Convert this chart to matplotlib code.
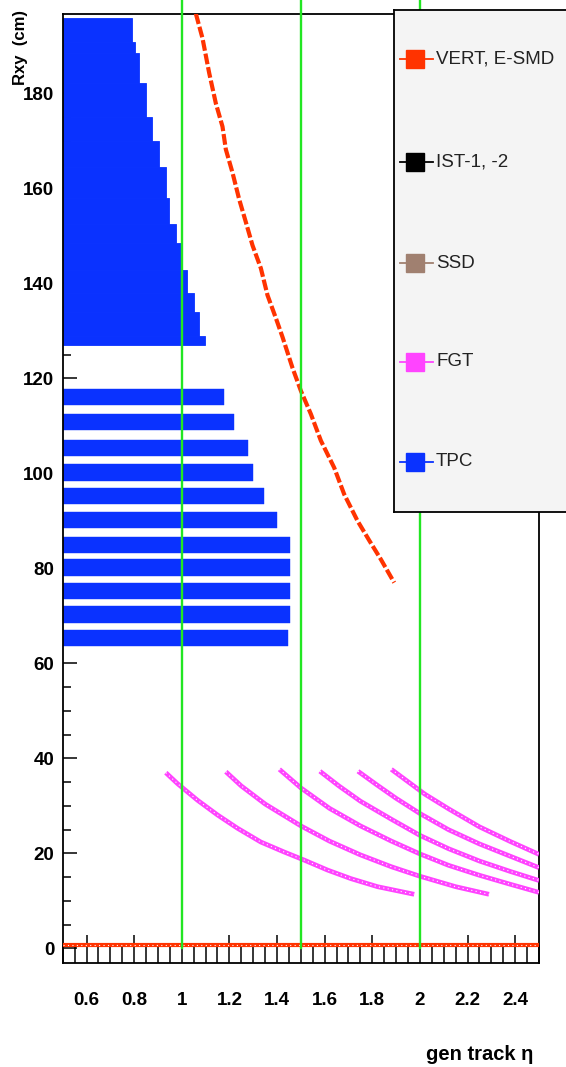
import matplotlib
matplotlib.use("Agg")
import matplotlib.pyplot as plt
from matplotlib.ticker import MultipleLocator, FuncFormatter

# ---------------- data ----------------
# TPC outer block: radius bands (cm) and maximum eta reached in each band
tpc_outer_r_lo = [127.1, 129.0, 134.0, 138.0, 142.8, 148.4, 152.6, 158.0, 164.5, 170.0, 175.0, 182.1, 188.5, 190.8]
tpc_outer_r_hi = [129.0, 134.0, 138.0, 142.8, 148.4, 152.6, 158.0, 164.5, 170.0, 175.0, 182.1, 188.5, 190.8, 195.8]
tpc_outer_eta_max = [1.097, 1.073, 1.052, 1.024, 1.003, 0.975, 0.947, 0.933, 0.905, 0.873, 0.849, 0.821, 0.803, 0.793]

# TPC inner pad rows: row radius (cm) and maximum eta
tpc_inner_r = [116.0, 110.9, 105.3, 100.2, 95.2, 90.1, 84.9, 80.2, 75.3, 70.3, 65.4]
tpc_inner_eta_max = [1.178, 1.22, 1.276, 1.30, 1.346, 1.40, 1.455, 1.455, 1.455, 1.455, 1.447]
tpc_eta_min = 0.5

# VERT / E-SMD
esmd_eta = [1.059, 1.087, 1.115, 1.143, 1.171, 1.185, 1.213, 1.241, 1.269, 1.297, 1.332,
            1.36, 1.395, 1.423, 1.465, 1.5, 1.542, 1.584, 1.64, 1.682, 1.738, 1.787, 1.836, 1.892]
esmd_r = [196.8, 191.6, 184.3, 177.9, 173.0, 168.2, 163.3, 157.7, 152.9, 148.0, 143.2,
          137.5, 132.7, 128.7, 122.2, 117.4, 112.5, 106.9, 101.2, 95.6, 90.0, 85.9, 81.9, 77.0]
vert_eta = [0.5, 2.5]
vert_r = [0.7, 0.7]

# FGT disks
fgt1_eta = [0.933, 0.982, 1.066, 1.15, 1.234, 1.332, 1.43, 1.514, 1.612, 1.71, 1.822, 1.976]
fgt1_r = [37.0, 34.7, 31.2, 28.1, 25.3, 22.4, 20.3, 18.6, 16.5, 14.7, 13.0, 11.4]
fgt2_eta = [1.185, 1.25, 1.35, 1.5, 1.62, 1.75, 1.88, 2.0, 2.15, 2.29]
fgt2_r = [37.2, 34.2, 30.4, 25.8, 22.6, 19.7, 17.2, 15.2, 13.0, 11.4]
fgt3_eta = [1.41, 1.5, 1.62, 1.75, 1.88, 2.0, 2.12, 2.25, 2.38, 2.5]
fgt3_r = [37.7, 33.8, 29.5, 25.8, 22.6, 19.9, 17.5, 15.4, 13.5, 11.8]
fgt4_eta = [1.58, 1.66, 1.75, 1.88, 2.0, 2.12, 2.25, 2.38, 2.5]
fgt4_r = [37.3, 34.2, 31.0, 27.2, 23.8, 21.0, 18.4, 16.2, 14.3]
fgt5_eta = [1.74, 1.82, 1.9, 2.0, 2.12, 2.25, 2.38, 2.5]
fgt5_r = [37.3, 34.4, 31.6, 28.4, 25.0, 22.0, 19.4, 17.0]
fgt6_eta = [1.88, 1.95, 2.02, 2.12, 2.25, 2.38, 2.5]
fgt6_r = [37.7, 35.1, 32.5, 29.4, 25.6, 22.5, 19.8]

eta_cuts = [1.0, 1.5, 2.0]

legend_labels = ["VERT, E-SMD", "IST-1, -2", "SSD", "FGT", "TPC"]
legend_colors = ["#ff3300", "#000000", "#a08070", "#ff44ff", "#0a32ff"]

# ---------------- styles ----------------
RED, BLUE, MAG, GREEN = "#ff3300", "#0a32ff", "#ff44ff", "#22e622"
FONT = "Liberation Sans"
W, H = 566, 1067

fig = plt.figure(figsize=(W / 100, H / 100), dpi=100)
L, R, T, B = 62.7, 539.0, 14.0, 962.7
ax = fig.add_axes([L / W, 1 - B / H, (R - L) / W, (B - T) / H])
ax.set_xlim(0.5, 2.5)
ax.set_ylim(-3.0, 196.7)

# TPC outer block
for lo, hi, em in zip(tpc_outer_r_lo, tpc_outer_r_hi, tpc_outer_eta_max):
    ax.barh((lo + hi) / 2, em - tpc_eta_min, height=hi - lo, left=tpc_eta_min,
            color=BLUE, edgecolor=BLUE, linewidth=0.6, zorder=2)
# TPC inner rows
for r, em in zip(tpc_inner_r, tpc_inner_eta_max):
    ax.barh(r, em - tpc_eta_min, height=3.4, left=tpc_eta_min,
            color=BLUE, edgecolor=BLUE, linewidth=0.3, zorder=2)

# E-SMD and vertex
ax.plot(esmd_eta, esmd_r, color=RED, lw=3.0, dashes=(2.6, 0.7), zorder=3, solid_capstyle="butt")
ax.plot(vert_eta, vert_r, color=RED, lw=3.0, zorder=3)
ax.plot(vert_eta, vert_r, color="white", lw=0.8, ls=(0, (1, 3)), zorder=3)

# FGT
for xs, ys in [(fgt1_eta, fgt1_r), (fgt2_eta, fgt2_r), (fgt3_eta, fgt3_r),
               (fgt4_eta, fgt4_r), (fgt5_eta, fgt5_r), (fgt6_eta, fgt6_r)]:
    ax.plot(xs, ys, color=MAG, lw=3.4, zorder=3, solid_capstyle="butt")
    ax.plot(xs, ys, color="white", lw=0.8, ls=(0, (1.0, 3.0)), zorder=3)

# green eta lines (extend above the frame)
for e in eta_cuts:
    ax.plot([e, e], [0, 199.6], color=GREEN, lw=1.7, zorder=4, clip_on=False)

# axes style
for s in ax.spines.values():
    s.set_linewidth(1.3)
ax.xaxis.set_major_locator(MultipleLocator(0.2))
ax.xaxis.set_minor_locator(MultipleLocator(0.05))
ax.yaxis.set_major_locator(MultipleLocator(20))
ax.yaxis.set_minor_locator(MultipleLocator(5))
ax.xaxis.set_major_formatter(FuncFormatter(lambda v, p: "%g" % round(v, 2)))
ax.yaxis.set_major_formatter(FuncFormatter(lambda v, p: "%d" % round(v)))
ax.tick_params(axis="x", which="major", direction="in", length=20, width=1.1, pad=21,
               top=False, labelsize=13.5)
ax.tick_params(axis="x", which="minor", direction="in", length=13, width=1.1, top=False)
ax.tick_params(axis="y", which="major", direction="in", length=10, width=1.1, pad=6,
               right=False, labelsize=13.5)
ax.tick_params(axis="y", which="minor", direction="in", length=6, width=1.1, right=False)
for lab in ax.get_xticklabels() + ax.get_yticklabels():
    lab.set_fontfamily(FONT)
    lab.set_fontweight("bold")

fig.text(21 / W, 1 - 10 / H, "Rxy  (cm)", rotation=90, ha="center", va="top",
         fontsize=12, fontweight="bold", family=FONT)
fig.text(533 / W, 1 - 1055 / H, "gen track η", ha="right", va="center",
         fontsize=14.5, fontweight="bold", family=FONT)

# legend box (extends beyond the right edge of the canvas)
LX0, LX1, LY0, LY1 = 394.0, 620.0, 10.0, 512.0
lax = fig.add_axes([LX0 / W, 1 - LY1 / H, (LX1 - LX0) / W, (LY1 - LY0) / H])
lax.set_zorder(10)
lax.set_xlim(LX0, LX1)
lax.set_ylim(LY1, LY0)
lax.set_facecolor("#f4f4f4")
lax.set_xticks([])
lax.set_yticks([])
for s in lax.spines.values():
    s.set_linewidth(1.3)
entry_y = [59, 162, 263, 362, 462]
for y, lab, c in zip(entry_y, legend_labels, legend_colors):
    lax.plot([400, 433], [y, y], color=c, lw=1.3)
    lax.plot([415], [y], marker="s", ms=12.5, color=c, mec=c)
    lax.text(436, y, lab, ha="left", va="center", fontsize=13.5, color="#222222", family=FONT)

fig.savefig("out.png", dpi=100)
